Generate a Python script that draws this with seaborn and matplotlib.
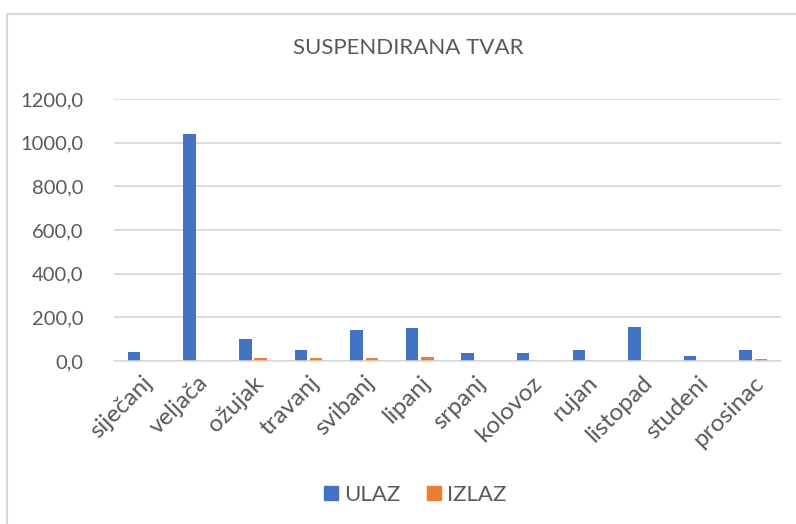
import matplotlib
matplotlib.use("Agg")
import matplotlib.pyplot as plt
import seaborn as sns
import pandas as pd
from matplotlib.lines import Line2D
from matplotlib.ticker import FuncFormatter

months = ["siječanj", "veljača", "ožujak", "travanj", "svibanj", "lipanj",
          "srpanj", "kolovoz", "rujan", "listopad", "studeni", "prosinac"]
ulaz = [41, 1038, 100, 52, 140, 153, 37, 37, 52, 156, 24, 52]
izlaz = [0, 0, 12, 12, 12, 20, 0, 0, 0, 0, 0, 9]
series = ["ULAZ", "IZLAZ"]
title = "SUSPENDIRANA TVAR"
yticks = [0, 200, 400, 600, 800, 1000, 1200]

df = pd.DataFrame({
    "mjesec": months * 2,
    "vrijednost": ulaz + izlaz,
    "serija": [series[0]] * len(months) + [series[1]] * len(months),
})

sns.set_theme(style="white")
plt.rcParams["font.family"] = ["Lato", "DejaVu Sans"]

W, H = 796, 524
fig = plt.figure(figsize=(W / 100, H / 100), dpi=100)
ax = fig.add_axes([114 / W, (H - 361) / H, (781 - 114) / W, (361 - 99) / H])

palette = {"ULAZ": "#4472C4", "IZLAZ": "#ED7D31"}
sns.barplot(data=df, x="mjesec", y="vrijednost", hue="serija", palette=palette,
            width=0.55, gap=0.18, ax=ax, legend=False, saturation=1,
            linewidth=0)

ax.set_ylim(0, 1200)
ax.set_yticks(yticks)
ax.yaxis.set_major_formatter(FuncFormatter(lambda v, p: f"{v:.1f}".replace(".", ",")))
ax.set_xlim(-0.5, len(months) - 0.5)
ax.grid(axis="y", color="#D9D9D9", linewidth=1.3)
ax.set_axisbelow(True)
for s in ["top", "right", "left"]:
    ax.spines[s].set_visible(False)
ax.spines["bottom"].set_color("#D9D9D9")
ax.spines["bottom"].set_linewidth(1.1)
ax.set_xlabel("")
ax.set_ylabel("")
ax.tick_params(axis="both", length=0, colors="#595959")
ax.tick_params(axis="y", pad=22, labelsize=14.5)
ax.tick_params(axis="x", pad=8, labelsize=17.5)
plt.setp(ax.get_xticklabels(), rotation=45, ha="right", rotation_mode="anchor")

fig.text(408 / W, 1 - 48 / H, title, ha="center", va="center",
         fontsize=16, color="#595959")

handles = [Line2D([0], [0], marker="s", linestyle="", markersize=10,
                  markerfacecolor=palette[s], markeredgecolor=palette[s]) for s in series]
fig.legend(handles, series, loc="center", bbox_to_anchor=(413 / W, 1 - 495 / H),
           ncol=2, frameon=False, fontsize=16, labelcolor="#595959",
           handletextpad=0.1, columnspacing=1.0, handlelength=1.0)

# chart border (top and left visible)
fig.add_artist(Line2D([7 / W, 1], [1 - 14 / H, 1 - 14 / H], transform=fig.transFigure,
                      color="#D9D9D9", linewidth=1.5))
fig.add_artist(Line2D([7 / W, 7 / W], [0, 1 - 14 / H], transform=fig.transFigure,
                      color="#D9D9D9", linewidth=1.5))

fig.savefig("out.png", dpi=100, facecolor="white")
